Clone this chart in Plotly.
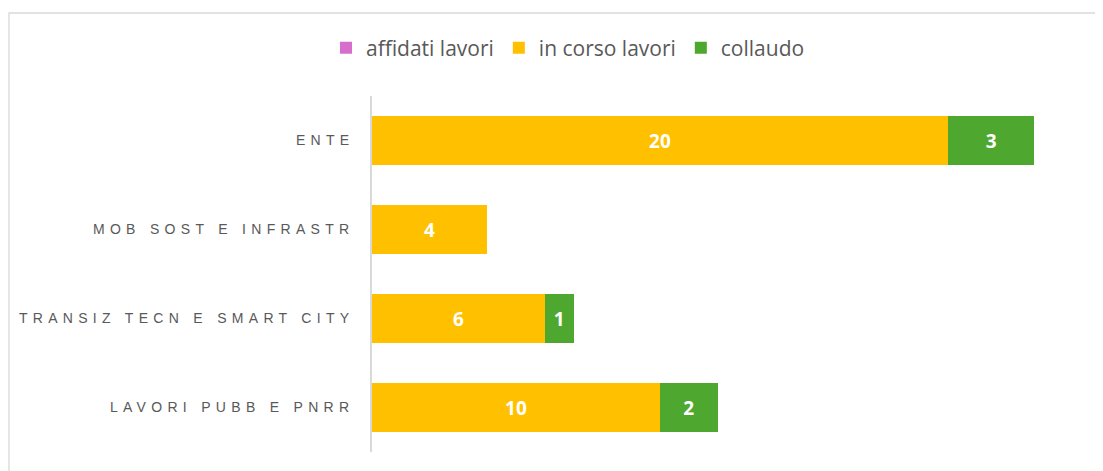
import plotly.graph_objects as go

categories = ["ENTE", "MOB SOST E INFRASTR", "TRANSIZ TECN E SMART CITY", "LAVORI PUBB E PNRR"]
affidati_lavori = [0, 0, 0, 0]
in_corso_lavori = [20, 4, 6, 10]
collaudo = [3, 0, 1, 2]

series = [
    ("affidati lavori", affidati_lavori, "#D86ECC"),
    ("in corso lavori", in_corso_lavori, "#FFC000"),
    ("collaudo", collaudo, "#4EA72E"),
]

# page body has an 8px margin, so the figure starts at (8, 8)
OFF = 8
W, H = 1103 - OFF, 471 - OFF
ml, mr, mt, mb = 372 - OFF, 11, 96 - OFF, 19

fig = go.Figure()
for name, vals, color in series:
    fig.add_trace(go.Bar(
        y=categories, x=vals, name=name, orientation="h",
        marker=dict(color=color, line=dict(width=0)),
        text=[str(v) if v else "" for v in vals],
        textposition="inside", insidetextanchor="middle", textangle=0,
        constraintext="none",
        textfont=dict(family="Open Sans, Inter, sans-serif", size=19, color="white", weight="bold"),
        hoverinfo="x+name",
    ))

ticktext = ['<span style="letter-spacing:5.3px">%s</span>' % c for c in categories]

pw = W - ml - mr
ph = H - mt - mb

fig.update_layout(
    width=W, height=H, barmode="stack", bargap=0.44,
    margin=dict(l=ml, r=mr, t=mt, b=mb, autoexpand=False),
    paper_bgcolor="white", plot_bgcolor="white",
    showlegend=True,
    legend=dict(orientation="h", x=(568 - 372) / pw, xanchor="center",
                y=(452 - 48) / ph, yanchor="middle",
                font=dict(family="Open Sans, Inter, sans-serif", size=21, color="#595959"),
                traceorder="normal", itemclick=False),
    xaxis=dict(range=[0, 25], showgrid=False, zeroline=False, showticklabels=False,
               showline=False, ticks="", fixedrange=True),
    yaxis=dict(categoryorder="array", categoryarray=categories, autorange="reversed",
               showline=True, linecolor="#D9D9D9", linewidth=1.5, ticks="",
               showgrid=False, zeroline=False, ticktext=ticktext, tickvals=categories,
               ticklabelstandoff=13,
               tickfont=dict(family="Liberation Sans, Arial, sans-serif", size=14, color="#595959")),
)

fig.add_shape(type="rect", xref="paper", yref="paper",
              x0=(9 - 372) / pw, x1=1.2, y0=-0.2, y1=(452 - 13) / ph,
              line=dict(color="#D9D9D9", width=1.3), fillcolor="rgba(0,0,0,0)", layer="below")

fig.write_html("out.html")
